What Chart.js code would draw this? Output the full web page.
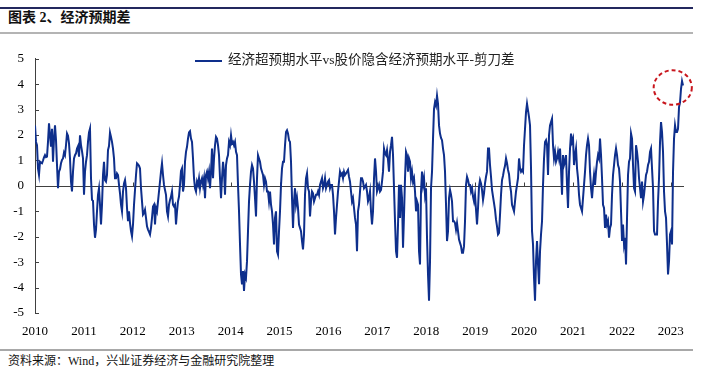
<!DOCTYPE html>
<html lang="zh-CN">
<head>
<meta charset="UTF-8">
<title>图表 2、经济预期差</title>
<script src="https://cdn.jsdelivr.net/npm/chart.js"></script>
<style>
  body { margin: 0; width: 707px; height: 376px; background: #fff; position: relative; overflow: hidden;
         font-family: "Liberation Serif", "Noto Sans CJK SC", serif; color: #111; }
  .top-line { position: absolute; left: 0; top: 7px; width: 693px; height: 2px; background: #23285e; }
  .title { position: absolute; left: 8px; top: 9px; font-size: 14px; font-weight: bold; line-height: 18px; }
  .sep { position: absolute; left: 0; top: 32px; width: 693px; height: 2px; background: #b4b4b4; }
  .chart-box { position: absolute; left: 0; top: 40px; width: 707px; height: 300px; }
  .legend { position: absolute; left: 195px; top: 51px; height: 18px; line-height: 18px; font-size: 13.5px; color: #222; white-space: nowrap; }
  .legend i { display: inline-block; width: 27px; height: 2px; background: #0e2f8c; vertical-align: middle; margin-right: 6px; }
  .foot-line { position: absolute; left: 0; top: 349px; width: 693px; height: 2px; background: #a8a8a8; }
  .source { position: absolute; left: 8px; top: 353px; font-size: 12px; line-height: 16px; }
</style>
</head>
<body>
  <div class="top-line"></div>
  <div class="title">图表 2、经济预期差</div>
  <div class="sep"></div>
  <div class="chart-box"><canvas id="grafico"></canvas></div>
  <div class="legend"><i></i>经济超预期水平vs股价隐含经济预期水平-剪刀差</div>
  <div class="foot-line"></div>
  <div class="source">资料来源：Wind，兴业证券经济与金融研究院整理</div>

<script>
  // sample span (decimal years); samples are evenly spaced between these
  const firstDate = 2010.0;
  const lastDate = 2023.25;

  // 经济超预期水平vs股价隐含经济预期水平-剪刀差
  const spread2010 = [
    2.38, 1.73, 1.60, 0.69, 0.43, 0.95, 0.91, 0.89, 1.00, 1.12, 1.21, 1.13, 1.15, 1.73, 2.46, 1.99, 1.54, 2.25, 0.95, 1.86,
    2.38, 1.80, 0.82, -0.09, 0.56, 0.66, 0.89, 1.02, 1.08, 1.31, 1.21, 1.60, 2.06, 1.97, 1.67, 1.08, 0.17, -0.22, 0.56, 1.08,
    1.21, 1.28, 1.47, 1.56, 1.15, 1.99, 1.60, 1.37, 1.08, -0.35, 0.56, 0.95, 1.21, 1.73, 2.10, 2.25, 0.30, -0.55, -0.59, -1.52,
    -2.04, -1.72, -1.00, -0.35, -0.09, -0.74, -1.52, -0.74, 0.43, 0.95, 0.23, 0.17, 0.43, 1.41, 1.57
  ];
  const spread2011 = [
    2.10, 1.93, 1.73, 1.47, 1.08, 0.30, 0.30, 0.49, 0.43, 0.04, -0.29, -0.74, -1.00, -0.22, 0.10, 0.23, -0.09, -0.87, -1.39, -1.00,
    -1.46, -1.78, -1.98, -1.52, -0.74, -0.16, 0.43, 0.89, 0.85, 0.79, 0.69, -0.09, -0.61, -1.13, -1.07, -0.94, -1.26, -1.59, -1.72, -1.81,
    -1.91, -1.65, -1.26, -0.81, -0.74, -1.52, -0.87, -1.00, -0.61, -0.22, 0.17, 0.56, 0.89, 0.43, 0.04, -0.16, -0.35, -1.00, -1.20, -0.74,
    -0.55, -0.42, -0.22, -0.74, -0.81, -0.74, -1.52, -1.00, -0.61, -0.42, 0.04, 0.59, 0.69, -0.22, 0.04, 0.95, 1.34, 1.54, 1.86, 2.10
  ];
  const spread2013 = [
    2.15, 1.86, 1.73, 1.08, 0.30, -0.09, -0.22, 0.17, 0.04, 0.30, -0.09, 0.17, 0.30, 0.04, 0.30, -0.48, 0.43, 0.56, 0.30, 0.56,
    -0.09, 0.56, 1.47, 0.30, 1.08, 1.60, 1.93, 1.86, 1.60, 1.21, 0.30, -0.48, 0.30, 0.95, 0.56, -0.35, 0.82, 1.08, 1.21, 1.73,
    1.60, 1.99, 1.67, 1.73, 1.60, 1.73, 1.34, 1.21, 0.04, -1.00, -2.30, -3.48, -3.87, -3.35, -4.13, -3.48, -3.61, -2.96, -1.78, -0.61,
    0.04, 0.56, 0.82, 0.69, 0.17, -0.48, -1.20, 0.30, 1.21, 1.08, 0.95, 0.69, 0.56, 0.43, 0.04, 0.30, 0.17, -0.22, -0.22, -0.61
  ];
  const spread2015 = [
    -0.22, -0.74, -1.00, -1.52, -2.30, -1.26, -1.00, -2.57, -2.70, -1.78, -1.00, 0.04, 0.69, 0.95, 0.95, 1.60, 2.12, 2.19, 2.06, 1.80,
    1.73, 0.95, -0.48, -1.65, -0.61, -0.09, -0.74, -0.48, -0.87, -1.52, -1.65, -1.78, -2.17, -2.50, -1.91, -0.35, 0.30, 0.49, -0.09, -0.22,
    -1.20, -0.61, -0.22, -0.29, -0.61, -0.48, -0.35, -0.35, -0.22, -0.35, 0.04, 0.17, 0.30, -0.09, 0.04, 0.30, -0.09, 0.04, 0.17, 0.23,
    -0.09, 0.04, 0.04, -0.35, -1.00, -1.91, -1.26, -0.74, -0.22, 0.17, 0.56, 0.43, 0.49, 0.30, 0.56, 0.43, 0.49, 0.56, 0.63, 0.36
  ];
  const spread2016 = [
    0.17, -0.22, -0.61, -0.48, -0.87, -1.26, -1.52, -2.57, -1.00, -0.74, -0.22, 0.30, 0.30, 0.17, -0.09, -0.03, 0.04, -0.22, -0.61, -0.48,
    -0.22, -1.00, -1.52, -1.00, 0.30, 1.08, 0.56, -0.22, -0.09, 0.04, -0.22, -0.16, 0.17, 0.56, 1.47, 1.28, 1.21, 1.41, 1.02, 0.56,
    1.34, 1.60, 1.93, 1.21, -0.09, -1.39, -2.57, -2.83, -1.52, 0.04, -1.26, 0.04, -0.48, -2.43, -1.13, 0.30, 1.34, 1.21, 0.56, 1.08,
    0.95, 0.30, 0.56, 0.17, 0.30, -0.22, -1.00, -0.61, -0.74, -2.57, -3.09, -0.22, 0.56, 0.04, 0.30, -0.35, -0.09, -2.04, -3.48, -4.52
  ];
  const spread2018 = [
    -2.96, -0.09, 0.56, 1.86, 3.03, 3.29, 3.16, 3.55, 3.23, 2.38, 2.06, 1.89, 1.80, 1.47, 1.21, 0.56, -0.74, -2.17, -1.78, -0.48,
    -0.16, -0.35, -0.61, -1.39, -1.39, -1.46, -1.72, -1.46, -1.78, -2.11, -2.24, -2.37, -2.63, -2.63, -2.37, -1.39, 0.04, 0.36, 0.23, 0.04,
    0.04, -0.22, -0.09, -0.42, -0.61, -0.35, -0.94, -1.52, -0.87, -0.03, 0.23, 0.10, -0.16, -0.55, -0.29, 0.10, 0.36, 0.56, 1.47, 1.47,
    0.82, 0.36, -0.16, -0.42, -0.68, -0.94, -1.33, -1.59, -1.91, -1.85, -1.13, -0.35, 0.23, 0.40, 0.63, 0.79, 1.08, 0.89, 0.63, 0.46
  ];
  const spread2019 = [
    0.04, -0.22, -0.74, -0.87, -1.00, -0.61, -0.22, 0.04, 0.30, 1.08, 0.69, 0.56, 0.63, 0.56, 1.60, 2.25, 2.90, 3.23, 2.97, 2.71,
    2.38, 0.69, -1.78, -2.30, -3.61, -4.52, -2.96, -2.17, -3.09, -3.87, -2.57, -1.91, -1.39, 0.04, 1.08, 1.73, 1.80, 1.60, 0.43, 1.99,
    2.38, 2.51, 2.64, 1.60, 1.08, 1.34, 0.95, 1.08, 1.34, 1.08, 1.47, 0.69, -0.35, 1.21, 0.82, 0.95, 1.21, 0.04, -0.87, 0.56,
    1.47, 2.06, 1.73, 1.86, 0.82, 1.21, 1.47, 0.69, 0.30, -0.35, -0.74, -0.87, -1.00, -0.48, 0.04, 0.56, 1.21, 1.60, 1.86, 1.60
  ];
  const spread2021 = [
    0.56, -0.09, -0.48, 0.04, 0.43, 0.04, 0.56, 0.95, 1.21, 1.08, 1.86, 1.21, 0.30, -0.74, -0.87, -1.65, -1.13, -1.52, -1.39, -2.04,
    -1.65, -1.52, -0.35, 0.43, 0.82, 1.21, 1.47, 1.21, 0.82, 0.69, 0.17, -1.00, -2.17, -1.52, -2.30, -2.04, -3.09, -1.26, 0.43, 0.95,
    1.08, 2.06, 1.86, 0.82, -0.09, -0.22, 1.60, 1.34, 0.95, 0.30, -0.09, -0.48, 0.17, -0.61, -0.35, 0.04, 0.43, 0.56, 0.82, 0.95,
    1.34, 1.47, 0.69, -0.09, -1.78, -1.91, -1.91, -1.91, -0.61, 0.30, 1.73, 2.51, 2.12, 1.34, -0.22, -1.00, -1.26, -2.30, -3.48, -2.96,
    -1.91, -1.78, -2.30, 0.56, 1.86, 2.38, 2.12, 2.12, 2.25, 3.10, 3.29, 3.82, 4.12, 3.95
  ];
  const spread = [].concat(spread2010, spread2011, spread2013, spread2015, spread2016, spread2018, spread2019, spread2021);

  const yearTicks = [2010, 2011, 2012, 2013, 2014, 2015, 2016, 2017, 2018, 2019, 2020, 2021, 2022, 2023];
  const valueTicks = [5, 4, 3, 2, 1, 0, -1, -2, -3, -4, -5];

  // red dashed ring round the latest reading (data units)
  const ring = { x: 2023.04, y: 3.87, rx: 0.39, ry: 0.68 };

  const stepYears = (lastDate - firstDate) / (spread.length - 1);
  const pontos = spread.map((v, i) => ({ x: firstDate + i * stepYears, y: v }));

  const serif = 'Liberation Serif';

  const marcas = {
    id: 'marcas',
    beforeDatasetsDraw(chart) {
      const { ctx, chartArea, scales: { x, y } } = chart;
      const y0 = Math.round(y.getPixelForValue(0)) + 0.5;
      ctx.save();
      ctx.strokeStyle = '#404040';
      ctx.lineWidth = 1;
      ctx.beginPath();
      ctx.moveTo(chartArea.left, y0);
      ctx.lineTo(chartArea.right, y0);
      yearTicks.forEach(ano => {
        const px = Math.round(x.getPixelForValue(ano)) + 0.5;
        ctx.moveTo(px, y0);
        ctx.lineTo(px, y0 - 4);
      });
      valueTicks.forEach(v => {
        const py = Math.round(y.getPixelForValue(v)) + 0.5;
        ctx.moveTo(chartArea.left, py);
        ctx.lineTo(chartArea.left + 4, py);
      });
      ctx.stroke();
      ctx.restore();
    },
    afterDatasetsDraw(chart) {
      const { ctx, scales: { x, y } } = chart;
      const cx = x.getPixelForValue(ring.x);
      const cy = y.getPixelForValue(ring.y);
      const rx = x.getPixelForValue(ring.x + ring.rx) - cx;
      const ry = cy - y.getPixelForValue(ring.y + ring.ry);
      ctx.save();
      ctx.strokeStyle = '#c8161d';
      ctx.lineWidth = 2;
      ctx.setLineDash([4, 3]);
      ctx.beginPath();
      ctx.ellipse(cx, cy, rx, ry, 0, 0, Math.PI * 2);
      ctx.stroke();
      ctx.restore();
    }
  };

  new Chart(document.getElementById('grafico'), {
    type: 'line',
    data: {
      datasets: [{
        label: '经济超预期水平vs股价隐含经济预期水平-剪刀差',
        data: pontos,
        borderColor: '#0e2f8c',
        backgroundColor: '#0e2f8c',
        borderWidth: 2,
        pointRadius: 0,
        tension: 0
      }]
    },
    plugins: [marcas],
    options: {
      responsive: true,
      maintainAspectRatio: false,
      animation: false,
      layout: { padding: { left: 0, right: 23, top: 17, bottom: 0 } },
      plugins: {
        legend: { display: false },
        tooltip: { enabled: false }
      },
      scales: {
        x: {
          type: 'linear',
          min: 2010,
          max: 2023.27,
          grid: { display: false },
          border: { display: false },
          afterBuildTicks: (s) => { s.ticks = yearTicks.map(v => ({ value: v })); },
          afterFit: (s) => { s.height = 27; },
          ticks: {
            padding: 3,
            autoSkip: false,
            maxRotation: 0,
            color: '#000',
            font: { family: serif, size: 13 },
            callback: (v) => String(v)
          }
        },
        y: {
          min: -5,
          max: 5,
          grid: { drawOnChartArea: false, drawTicks: false },
          border: { display: true, color: '#404040', width: 1 },
          afterBuildTicks: (s) => { s.ticks = valueTicks.map(v => ({ value: v })); },
          afterFit: (s) => { s.width = 35; },
          ticks: {
            padding: 11,
            color: '#000',
            font: { family: serif, size: 13 },
            callback: (v) => String(v)
          }
        }
      }
    }
  });
</script>
</body>
</html>
